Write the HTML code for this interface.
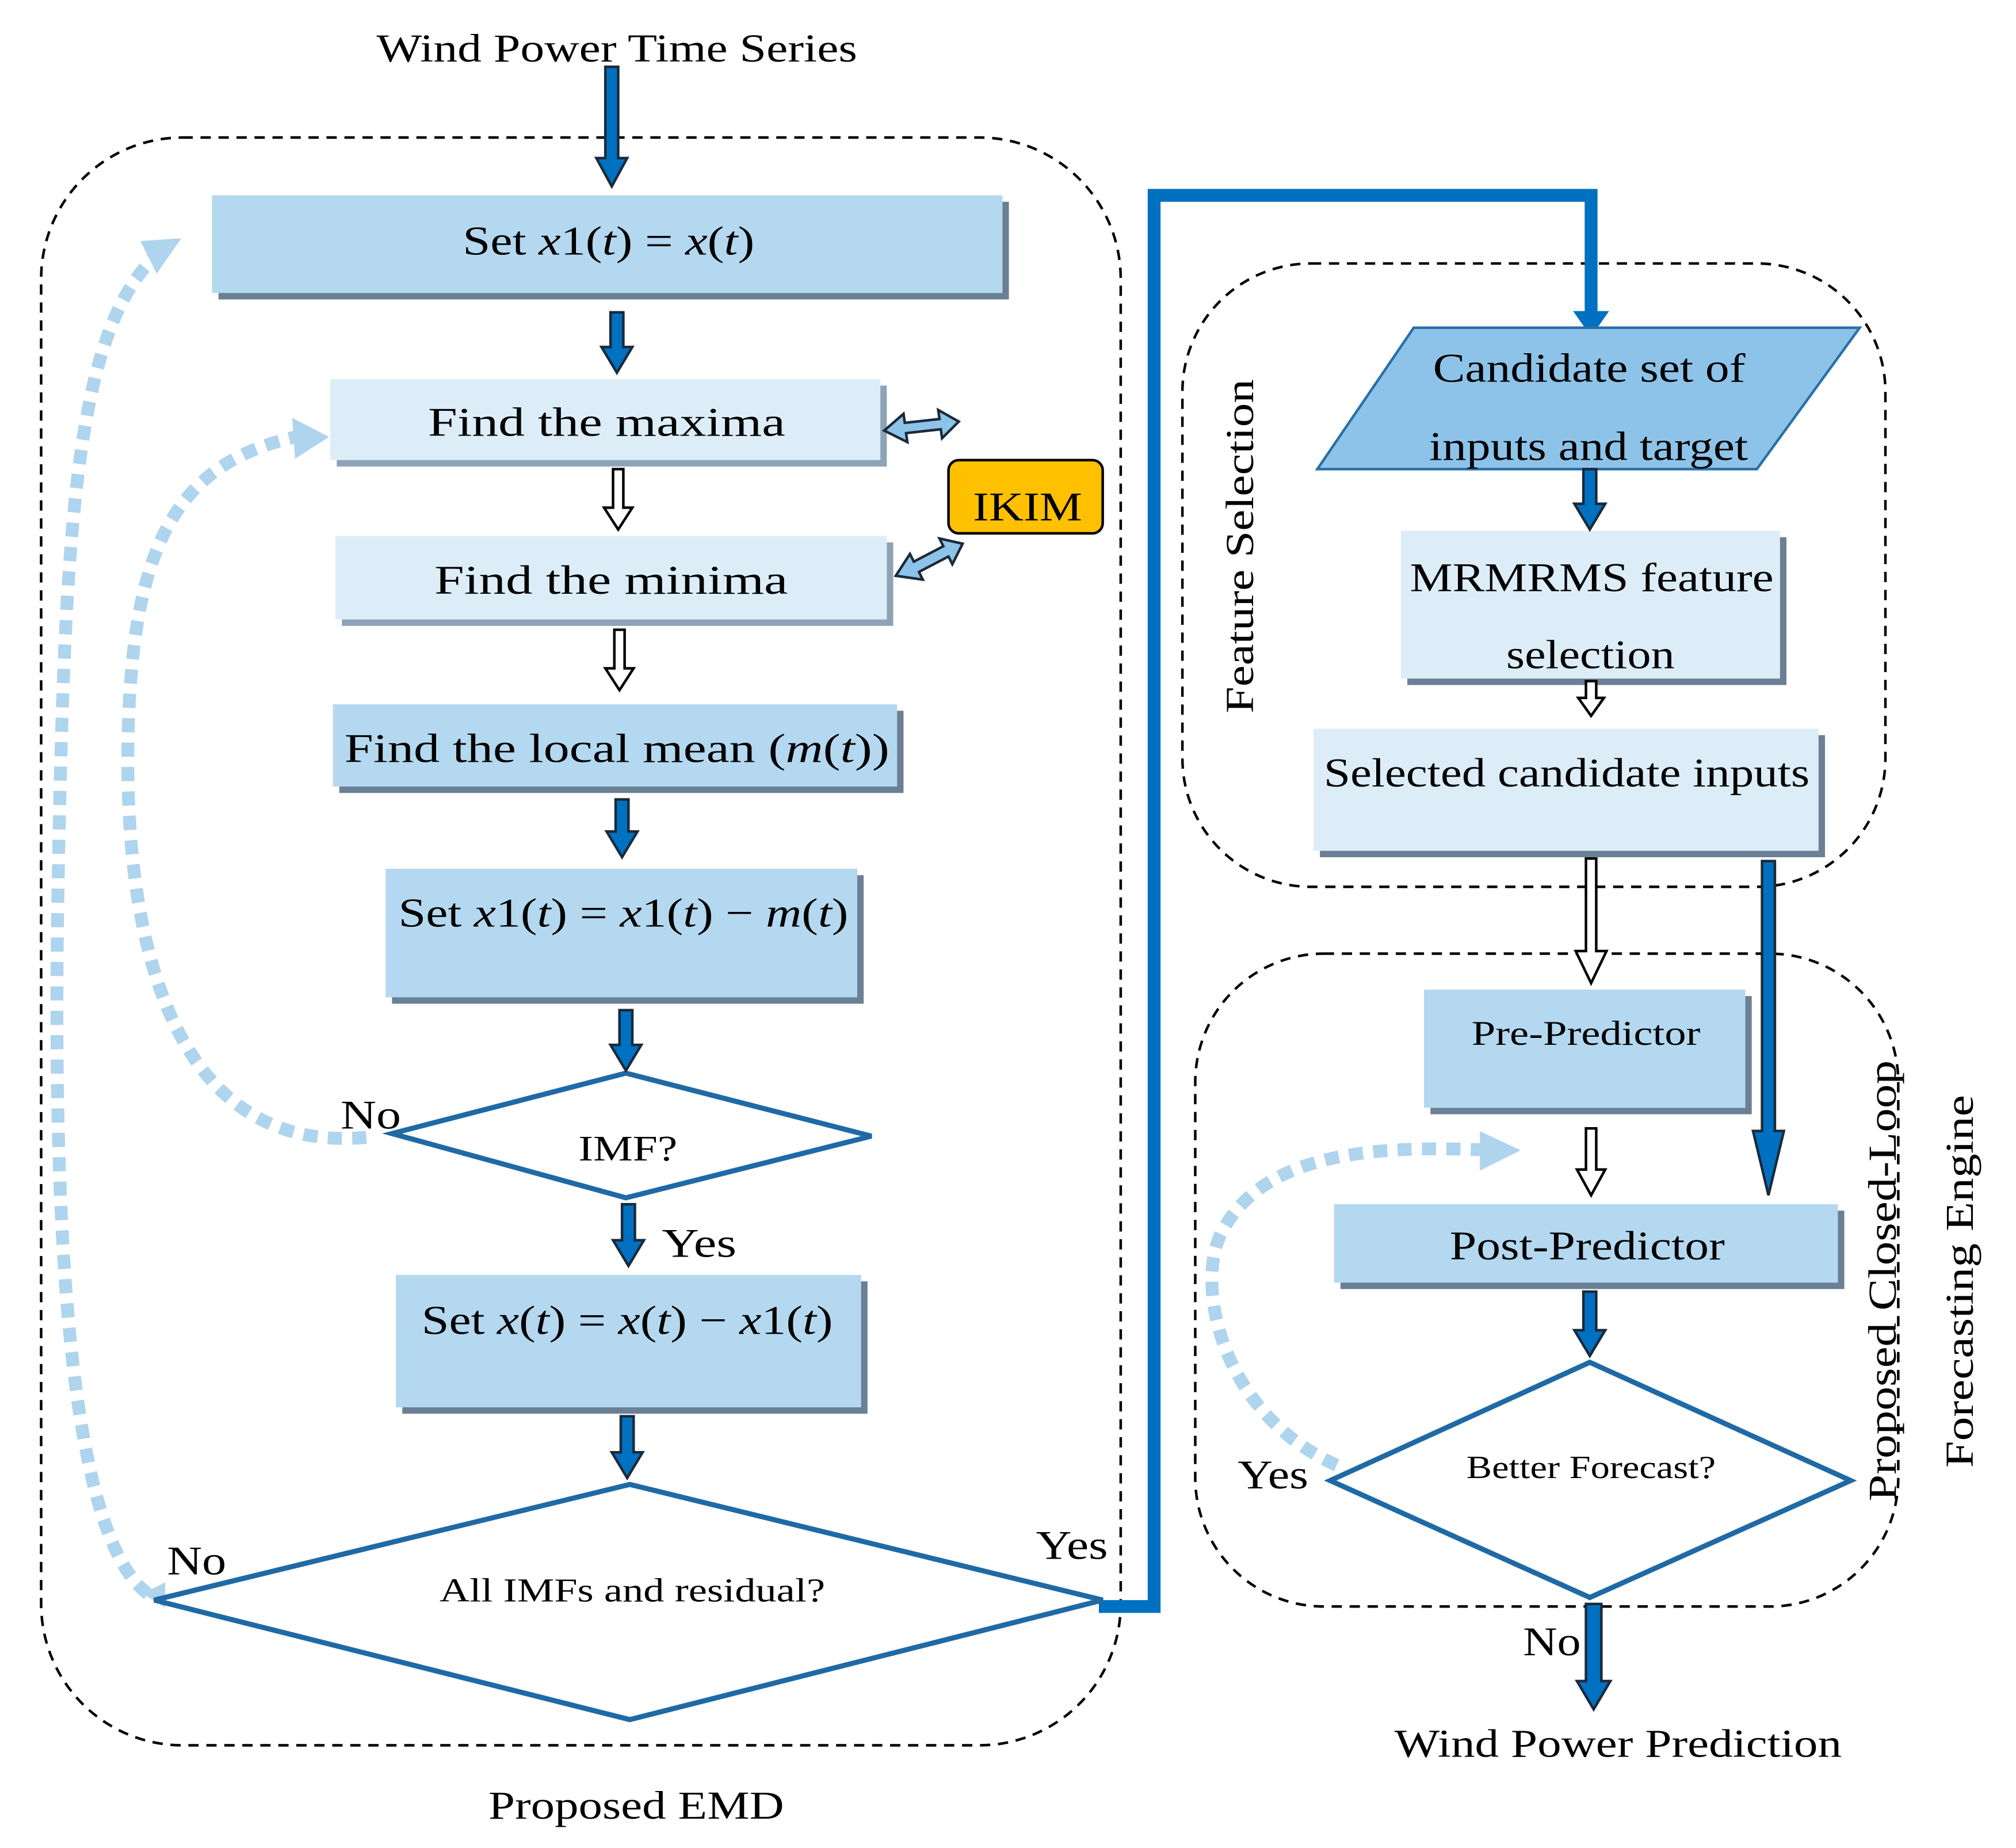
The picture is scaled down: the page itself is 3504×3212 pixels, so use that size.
<!DOCTYPE html>
<html><head><meta charset="utf-8"><style>
html,body{margin:0;padding:0;background:#fff;}
svg{display:block;}
text{font-family:"Liberation Serif",serif;fill:#000;}
</style></head><body>
<svg width="3504" height="3212" viewBox="0 0 1568.6 1437.9" xmlns="http://www.w3.org/2000/svg">
<rect width="1570" height="1440" fill="#fff"/>
<!-- dashed containers -->
<rect x="32" y="107" width="840" height="1251" rx="110" fill="none" stroke="#000" stroke-width="2" stroke-dasharray="8 6"/>
<rect x="920" y="205" width="547" height="485" rx="100" fill="none" stroke="#000" stroke-width="2" stroke-dasharray="8 6"/>
<rect x="930" y="742" width="547" height="508" rx="100" fill="none" stroke="#000" stroke-width="2" stroke-dasharray="8 6"/>

<g lengthAdjust="spacingAndGlyphs">
<text x="293" y="48" font-size="31" textLength="374" lengthAdjust="spacingAndGlyphs">Wind Power Time Series</text>
<text x="380" y="1415" font-size="31" textLength="230" lengthAdjust="spacingAndGlyphs">Proposed EMD</text>
<text x="1085" y="1367" font-size="31" textLength="348" lengthAdjust="spacingAndGlyphs">Wind Power Prediction</text>
<text font-size="31" textLength="260" lengthAdjust="spacingAndGlyphs" transform="translate(975,555) rotate(-90)">Feature Selection</text>
<text font-size="31" textLength="343" lengthAdjust="spacingAndGlyphs" transform="translate(1475,1168) rotate(-90)">Proposed Closed-Loop</text>
<text font-size="31" textLength="290" lengthAdjust="spacingAndGlyphs" transform="translate(1535,1142) rotate(-90)">Forecasting Engine</text>
</g>

<!-- dotted loops -->
<g fill="none" stroke="#aed4ee" stroke-width="10" stroke-dasharray="11 8">
<path d="M285,885 C120,900 95,700 100,560 C105,420 140,360 230,340"/>
<path d="M115,1240 C60,1200 40,1000 45,700 C50,400 60,260 120,200"/>
<path d="M1040,1140 C950,1100 930,1000 950,960 C980,900 1060,890 1160,895"/>
</g>
<g fill="#aed4ee" stroke="#aed4ee">
<polygon points="228,326 255,340 230,356"/>
<polygon points="110,188 140,186 122,212"/>
<polygon points="1152,881 1182,895 1152,910"/>
<polygon points="112,1240 128,1232 128,1250"/>
</g>

<!-- thick blue connector -->
<path d="M855,1250 H898 V152 H1238 V245" fill="none" stroke="#0070c0" stroke-width="10"/>
<polygon points="1224,242 1252,242 1238,262" fill="#0070c0"/>

<!-- boxes (shadow + fill) -->
<g>
<rect x="170" y="157" width="615" height="76" fill="#6b8095"/>
<rect x="165" y="152" width="615" height="76" fill="#b4d8ef"/>
<rect x="262" y="300" width="428" height="63" fill="#8ea3b8"/>
<rect x="257" y="295" width="428" height="63" fill="#dcedf8"/>
<rect x="266" y="422" width="429" height="65" fill="#8ea3b8"/>
<rect x="261" y="417" width="429" height="65" fill="#dcedf8"/>
<rect x="264" y="553" width="439" height="64" fill="#6b8095"/>
<rect x="259" y="548" width="439" height="64" fill="#b4d8ef"/>
<rect x="305" y="681" width="367" height="100" fill="#6b8095"/>
<rect x="300" y="676" width="367" height="100" fill="#b4d8ef"/>
<rect x="313" y="997" width="362" height="103" fill="#6b8095"/>
<rect x="308" y="992" width="362" height="103" fill="#b4d8ef"/>
<rect x="1095" y="418" width="295" height="115" fill="#6b8095"/>
<rect x="1090" y="413" width="295" height="115" fill="#dcedf8"/>
<rect x="1027" y="572" width="393" height="95" fill="#6b8095"/>
<rect x="1022" y="567" width="393" height="95" fill="#dcedf8"/>
<rect x="1113" y="775" width="250" height="92" fill="#6b8095"/>
<rect x="1108" y="770" width="250" height="92" fill="#b4d8ef"/>
<rect x="1043" y="942" width="392" height="61" fill="#6b8095"/>
<rect x="1038" y="937" width="392" height="61" fill="#b4d8ef"/>
</g>
<polygon points="1100,255 1447,255 1367,365 1025,365" fill="#8dc3e8" stroke="#2a6fa8" stroke-width="2"/>
<rect x="738" y="358" width="120" height="57" rx="8" fill="#ffc000" stroke="#000" stroke-width="2"/>

<!-- diamonds -->
<g fill="#fff" stroke="#1f6aa5" stroke-width="4">
<polygon points="487,835 678,884 487,932 305,882"/>
<polygon points="490,1155 858,1245 490,1338 120,1245"/>
<polygon points="1237,1060 1440,1152 1237,1243 1035,1152"/>
</g>

<!-- text in boxes -->
<g font-size="32">
<text x="360" y="198" textLength="227" lengthAdjust="spacingAndGlyphs">Set <tspan font-style="italic">x</tspan>1(<tspan font-style="italic">t</tspan>) = <tspan font-style="italic">x</tspan>(<tspan font-style="italic">t</tspan>)</text>
<text x="333" y="339" textLength="278" lengthAdjust="spacingAndGlyphs">Find the maxima</text>
<text x="338" y="462" textLength="275" lengthAdjust="spacingAndGlyphs">Find the minima</text>
<text x="268" y="593" textLength="424" lengthAdjust="spacingAndGlyphs">Find the local mean (<tspan font-style="italic">m</tspan>(<tspan font-style="italic">t</tspan>))</text>
<text x="310" y="721" textLength="350" lengthAdjust="spacingAndGlyphs">Set <tspan font-style="italic">x</tspan>1(<tspan font-style="italic">t</tspan>) = <tspan font-style="italic">x</tspan>1(<tspan font-style="italic">t</tspan>) − <tspan font-style="italic">m</tspan>(<tspan font-style="italic">t</tspan>)</text>
<text x="328" y="1038" textLength="320" lengthAdjust="spacingAndGlyphs">Set <tspan font-style="italic">x</tspan>(<tspan font-style="italic">t</tspan>) = <tspan font-style="italic">x</tspan>(<tspan font-style="italic">t</tspan>) − <tspan font-style="italic">x</tspan>1(<tspan font-style="italic">t</tspan>)</text>
<text x="757" y="405" textLength="85" lengthAdjust="spacingAndGlyphs">IKIM</text>
<text x="1115" y="297" textLength="243" lengthAdjust="spacingAndGlyphs">Candidate set of</text>
<text x="1112" y="358" textLength="248" lengthAdjust="spacingAndGlyphs">inputs and target</text>
<text x="1097" y="460" textLength="283" lengthAdjust="spacingAndGlyphs">MRMRMS feature</text>
<text x="1172" y="520" textLength="131" lengthAdjust="spacingAndGlyphs">selection</text>
<text x="1030" y="612" textLength="378" lengthAdjust="spacingAndGlyphs">Selected candidate inputs</text>
<text x="1128" y="980" textLength="214" lengthAdjust="spacingAndGlyphs">Post-Predictor</text>
<text x="265" y="878" textLength="47" lengthAdjust="spacingAndGlyphs">No</text>
<text x="515" y="978" textLength="58" lengthAdjust="spacingAndGlyphs">Yes</text>
<text x="130" y="1225" textLength="46" lengthAdjust="spacingAndGlyphs">No</text>
<text x="806" y="1213" textLength="56" lengthAdjust="spacingAndGlyphs">Yes</text>
<text x="963" y="1158" textLength="55" lengthAdjust="spacingAndGlyphs">Yes</text>
<text x="1185" y="1288" textLength="45" lengthAdjust="spacingAndGlyphs">No</text>
</g>
<text x="1145" y="813" font-size="27" textLength="178" lengthAdjust="spacingAndGlyphs">Pre-Predictor</text>
<text x="450" y="903" font-size="28" textLength="77" lengthAdjust="spacingAndGlyphs">IMF?</text>
<text x="342" y="1246" font-size="26" textLength="300" lengthAdjust="spacingAndGlyphs">All IMFs and residual?</text>
<text x="1141" y="1150" font-size="25" textLength="194" lengthAdjust="spacingAndGlyphs">Better Forecast?</text>

<!-- dark arrows -->
<g fill="#0070c0" stroke="#1a2a3a" stroke-width="2">
<polygon points="471,52 481,52 481,123 488,123 476,145 464,123 471,123"/>
<polygon points="475,243 485,243 485,270 492,270 480,290 468,270 475,270"/>
<polygon points="479,622 489,622 489,647 496,647 484,667 472,647 479,647"/>
<polygon points="482,786 492,786 492,813 499,813 487,833 475,813 482,813"/>
<polygon points="484,937 494,937 494,965 501,965 489,985 477,965 484,965"/>
<polygon points="483,1102 493,1102 493,1130 500,1130 488,1150 476,1130 483,1130"/>
<polygon points="1232,365 1242,365 1242,392 1249,392 1237,412 1225,392 1232,392"/>
<polygon points="1371,670 1381,670 1381,880 1388,880 1376,930 1364,880 1371,880"/>
<polygon points="1232,1005 1242,1005 1242,1035 1249,1035 1237,1055 1225,1035 1232,1035"/>
<polygon points="1234,1248 1246,1248 1246,1308 1253,1308 1240,1330 1227,1308 1234,1308"/>
</g>
<!-- hollow arrows -->
<g fill="#fff" stroke="#000" stroke-width="2">
<polygon points="477,365 485,365 485,395 492,395 481,412 470,395 477,395"/>
<polygon points="478,490 486,490 486,520 493,520 482,537 471,520 478,520"/>
<polygon points="1234,530 1242,530 1242,543 1248,543 1238,557 1228,543 1234,543"/>
<polygon points="1234,668 1242,668 1242,740 1250,740 1238,765 1226,740 1234,740"/>
<polygon points="1234,878 1242,878 1242,910 1249,910 1238,930 1227,910 1234,910"/>
</g>
<!-- double arrows to IKIM -->
<g fill="#8dc3e8" stroke="#1a2a3a" stroke-width="2">
<polygon points="688,335 703,322 704,329 731,326 730,319 746,328 733,341 732,334 705,337 706,344"/>
<polygon points="697,448 708,431 711,437 734,425 731,419 749,423 741,439 738,433 715,445 718,451"/>
</g>
</svg>
</body></html>
